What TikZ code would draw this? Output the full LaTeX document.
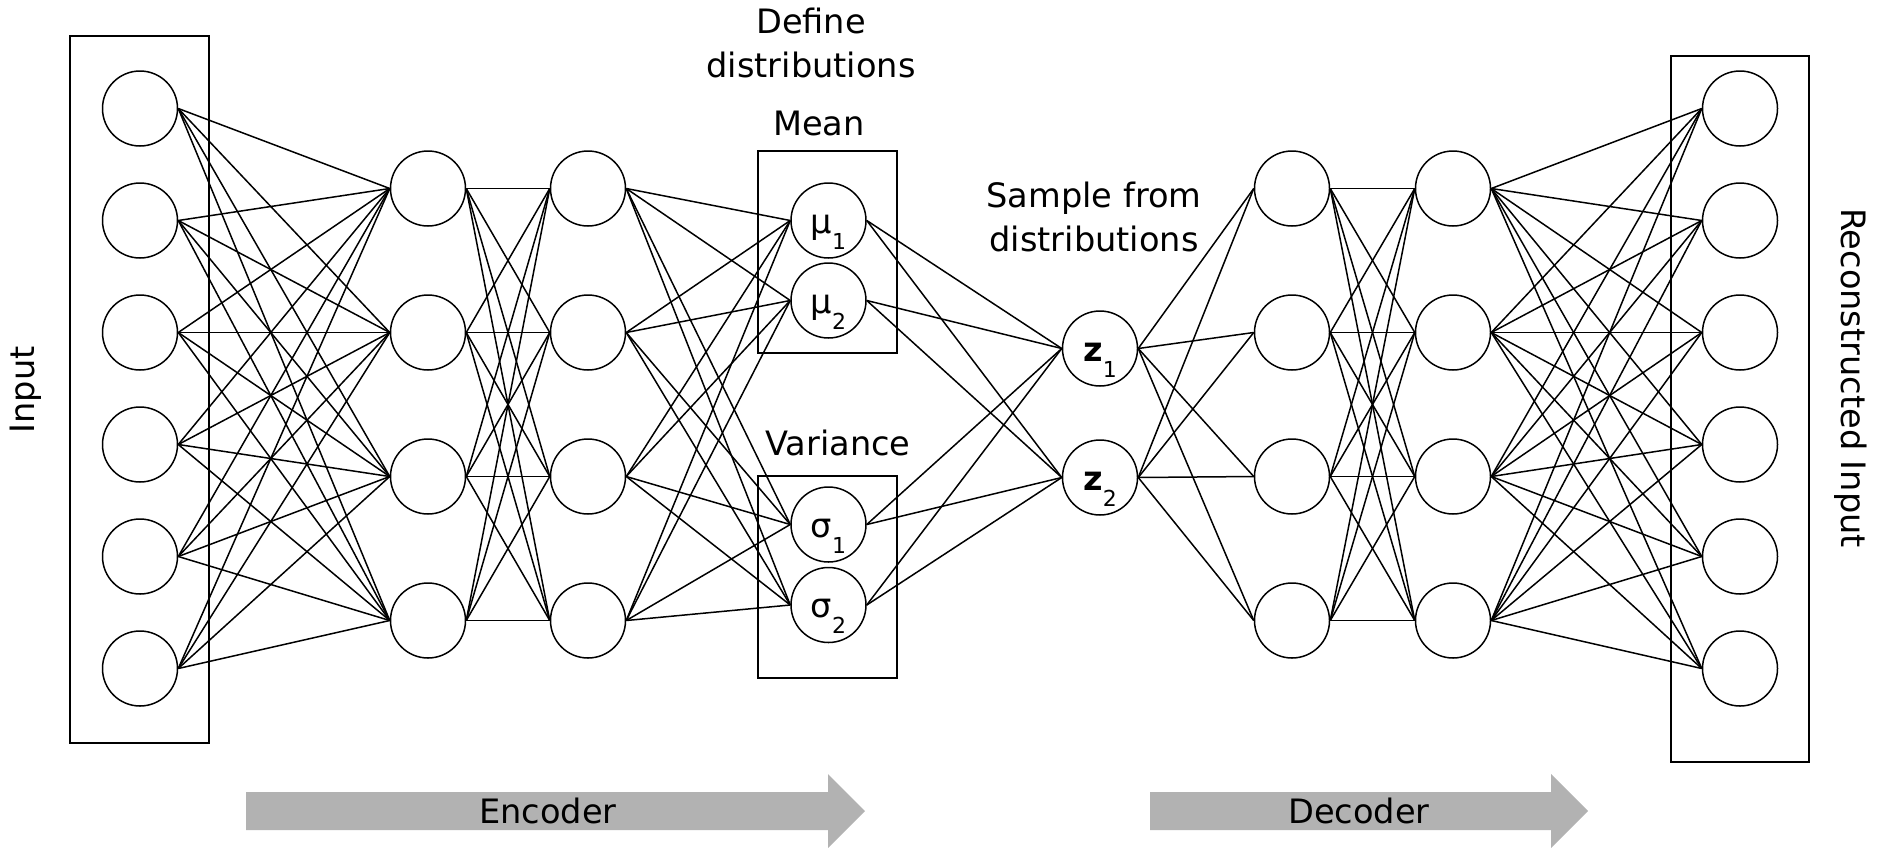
\documentclass[tikz,border=0pt]{standalone}
\usepackage{fontspec}
\setmainfont{DejaVu Sans}
\newcommand\idx[1]{\smash{\raisebox{-8pt}{\fontsize{11}{11}\selectfont #1}}}

\begin{document}
\begin{tikzpicture}[x=0.5pt, y=-0.5pt, line width=0.75pt,
  neuron/.style={circle, draw, minimum size=37.5pt, inner sep=0pt,
    text height=12.5pt, text depth=0pt, font=\fontsize{16.8}{20}\selectfont},
  heading/.style={font=\fontsize{16.8}{22}\selectfont},
  flow/.style={fill=black!30}]
\useasboundingbox (0,0) rectangle (1879,847);
% layers
\foreach \y [count=\i] in {108.5,220.5,332.5,444.5,556.5,668.5} {
  \node (in\i) [neuron] at (140,\y) {}; \node (out\i) [neuron] at (1740,\y) {};}
\foreach \y [count=\i] in {188.5,332.5,476.5,620.5} {
  \node (ha\i) [neuron] at (428,\y) {}; \node (hb\i) [neuron] at (588,\y) {};
  \node (da\i) [neuron] at (1292,\y) {}; \node (db\i) [neuron] at (1453,\y) {};}
\node (mu1) [neuron] at (828.5,220.5) {μ\idx{1}}; \node (mu2) [neuron] at
(828.5,300.5) {μ\idx{2}}; \node (sg1) [neuron] at (828.5,524.5) {σ\idx{1}};
\node (sg2) [neuron] at (828.5,605) {σ\idx{2}}; \node (z1) [neuron] at
(1100,348.5) {\textbf{z}\idx{1}}; \node (z2) [neuron] at (1100,477.5)
{\textbf{z}\idx{2}};
% weights
\foreach \i in {1,...,6} \foreach \j in {1,...,4} {\draw (in\i.east) --
  (ha\j.west); \draw (db\j.east) -- (out\i.west);}
\foreach \i in {1,...,4} \foreach \j in {1,...,4} {\draw (ha\i.east) --
  (hb\j.west); \draw (da\i.east) -- (db\j.west);}
\foreach \i in {1,...,4} \foreach \n in {mu1,mu2,sg1,sg2} \draw (hb\i.east) --
  (\n.west);
\foreach \n in {mu1,mu2,sg1,sg2} \foreach \k in {1,2} \draw (\n.east) --
  (z\k.west);
\foreach \k in {1,2} \foreach \j in {1,...,4} \draw (z\k.east) -- (da\j.west);
% boxes
\draw (70,36) rectangle (209,743); \draw (1671,56) rectangle (1809,762);
\draw (758,151) rectangle (897,353); \draw (758,476) rectangle (897,678);
% texts
\node (define) [heading, align=center, anchor=south, inner sep=0pt] at (811,79)
{Define\\distributions}; \node (mean) [heading, anchor=base] at (819,135)
{Mean}; \node (variance) [heading, anchor=base] at (838,455) {Variance};
\node (sample) [heading, align=center, anchor=south, inner sep=0pt] at
(1094,253) {Sample from\\distributions}; \node (input) [heading, rotate=90] at
(26,390) {Input}; \node (recon) [heading, rotate=-90] at (1851,378)
{Reconstructed Input};
% encoder / decoder
\fill[flow] (246,792) -- (828,792) -- (828,774) -- (865,811) -- (828,848) --
(828,830) -- (246,830) -- cycle;
\fill[flow] (1150,792) -- (1551,792) -- (1551,774) -- (1588,811) -- (1551,848)
-- (1551,830) -- (1150,830) -- cycle;
\node (enc) [heading, anchor=base] at (548,823) {Encoder}; \node (dec)
[heading, anchor=base] at (1359,823) {Decoder};
\end{tikzpicture}
\end{document}
